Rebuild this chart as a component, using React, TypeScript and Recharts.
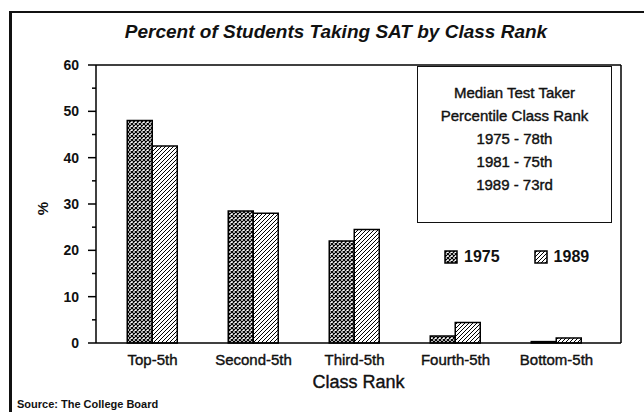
import { Bar, BarChart, ReferenceLine, XAxis, YAxis } from 'recharts';

const ranks = ['Top-5th', 'Second-5th', 'Third-5th', 'Fourth-5th', 'Bottom-5th'];
const pct1975 = [48, 28.5, 22, 1.5, 0.3];
const pct1989 = [42.5, 28, 24.5, 4.4, 1.1];
const yTicks = [0, 5, 10, 15, 20, 25, 30, 35, 40, 45, 50, 55, 60];
const boxLines = ['Median Test Taker', 'Percentile Class Rank', '1975 - 78th', '1981 - 75th', '1989 - 73rd'];
const legendItems = [
  { label: '1975', fill: 'url(#cross)' },
  { label: '1989', fill: 'url(#hatch)' }
];

const data = ranks.map((rank, i) => ({ rank, y1975: pct1975[i], y1989: pct1989[i] }));

const FONT = '"Liberation Sans", Arial, Helvetica, sans-serif';
// scanned print looks a bit heavier than regular weight
const heavy = { WebkitTextStroke: '0.4px #111' } as any;

function LeftTick(props: any) {
  const { x, y, payload } = props;
  const major = payload.value % 10 === 0;
  return (
    <g>
      <line x1={x - (major ? 8 : 4)} x2={x} y1={y} y2={y} stroke="#000" strokeWidth={1.5} />
      {major && (
        <text x={x - 17} y={y} dy="0.36em" textAnchor="end" fontSize={14} fontWeight="bold" fontFamily={FONT} fill="#111">
          {payload.value}
        </text>
      )}
    </g>
  );
}

function RightTick(props: any) {
  const { x, y, payload } = props;
  const major = payload.value % 10 === 0;
  if (payload.value === 0 || payload.value === 60) return <g />;
  return <line x1={x - (major ? 9 : 4)} x2={x} y1={y} y2={y} stroke="#000" strokeWidth={1.5} />;
}

function BottomTick(props: any) {
  const { x, y, payload } = props;
  return (
    <text x={x} y={y} dy="0.71em" textAnchor="middle" fontSize={15} fontFamily={FONT} fill="#111" stroke="#111" strokeWidth={0.4}>
      {payload.value}
    </text>
  );
}

export default function App() {
  return (
    <div style={{ position: 'absolute', left: 0, top: 0, width: 644, height: 412, background: '#fff', fontFamily: FONT, overflow: 'hidden' }}>
      <div style={{ position: 'absolute', left: 9, top: 11, width: 640, height: 410, borderTop: '2px solid #111', borderLeft: '3px solid #111' }} />
      <div style={{ position: 'absolute', left: 14, top: 21, width: 644, textAlign: 'center', fontSize: 19, fontWeight: 'bold', fontStyle: 'italic', color: '#111' }}>
        Percent of Students Taking SAT by Class Rank
      </div>
      <BarChart
        width={644}
        height={412}
        data={data}
        margin={{ top: 65, right: 0, bottom: 39, left: 0 }}
        barCategoryGap="25%"
        barGap={0}
      >
        <defs>
          <pattern id="cross" width={4} height={4} patternUnits="userSpaceOnUse">
            <rect width={4} height={4} fill="#fff" />
            <path d="M0,0 L4,4 M4,0 L0,4" stroke="#000" strokeWidth={1.2} />
          </pattern>
          <pattern id="hatch" width={4} height={4} patternUnits="userSpaceOnUse">
            <rect width={4} height={4} fill="#fff" />
            <path d="M-1,1 L1,-1 M0,4 L4,0 M3,5 L5,3" stroke="#000" strokeWidth={1} />
          </pattern>
        </defs>
        <XAxis
          dataKey="rank"
          padding={{ left: 6, right: 14 }}
          tickLine={false}
          tickSize={0}
          tickMargin={11}
          height={30}
          axisLine={{ stroke: '#000', strokeWidth: 1.5 }}
          tick={(p: any) => <BottomTick {...p} />}
        />
        <YAxis
          yAxisId="left"
          width={96}
          domain={[0, 60]}
          ticks={yTicks}
          interval={0}
          tickLine={false}
          tickSize={0}
          tickMargin={0}
          axisLine={{ stroke: '#000', strokeWidth: 1.5 }}
          tick={(p: any) => <LeftTick {...p} />}
        />
        <YAxis
          yAxisId="right"
          orientation="right"
          width={23}
          domain={[0, 60]}
          ticks={yTicks}
          interval={0}
          tickLine={false}
          tickSize={0}
          tickMargin={0}
          axisLine={{ stroke: '#000', strokeWidth: 1.5 }}
          tick={(p: any) => <RightTick {...p} />}
        />
        <ReferenceLine yAxisId="left" y={60} stroke="#000" strokeWidth={1.5} />
        <Bar yAxisId="left" dataKey="y1975" fill="url(#cross)" stroke="#000" strokeWidth={1.5} isAnimationActive={false} />
        <Bar yAxisId="left" dataKey="y1989" fill="url(#hatch)" stroke="#000" strokeWidth={1.5} isAnimationActive={false} />
      </BarChart>
      <div style={{ position: 'absolute', left: 444, top: 248, display: 'flex', fontSize: 16, fontWeight: 'bold', color: '#111' }}>
        {legendItems.map((it) => (
          <div key={it.label} style={{ display: 'flex', alignItems: 'center', marginRight: 34 }}>
            <svg width={14} height={14} style={{ marginRight: 6 }}>
              <rect x={1} y={1} width={12} height={12} fill={it.fill} stroke="#000" strokeWidth={1.5} />
            </svg>
            {it.label}
          </div>
        ))}
      </div>
      <div
        style={{
          position: 'absolute',
          left: 417,
          top: 66,
          width: 193,
          height: 141,
          border: '1.5px solid #111',
          background: '#fff',
          paddingTop: 14,
          boxSizing: 'content-box',
          fontSize: 15,
          color: '#111',
          textAlign: 'center',
          ...heavy
        }}
      >
        {boxLines.map((l) => (
          <div key={l} style={{ lineHeight: '23px' }}>{l}</div>
        ))}
      </div>
      <div style={{ position: 'absolute', left: 36, top: 200, transform: 'rotate(-90deg)', fontSize: 15, fontWeight: 'bold', color: '#111' }}>%</div>
      <div style={{ position: 'absolute', left: 0, width: 717, top: 372, textAlign: 'center', fontSize: 18, color: '#111', ...heavy }}>Class Rank</div>
      <div style={{ position: 'absolute', left: 17, top: 398, fontSize: 11, fontWeight: 'bold', color: '#111' }}>Source: The College Board</div>
    </div>
  );
}
